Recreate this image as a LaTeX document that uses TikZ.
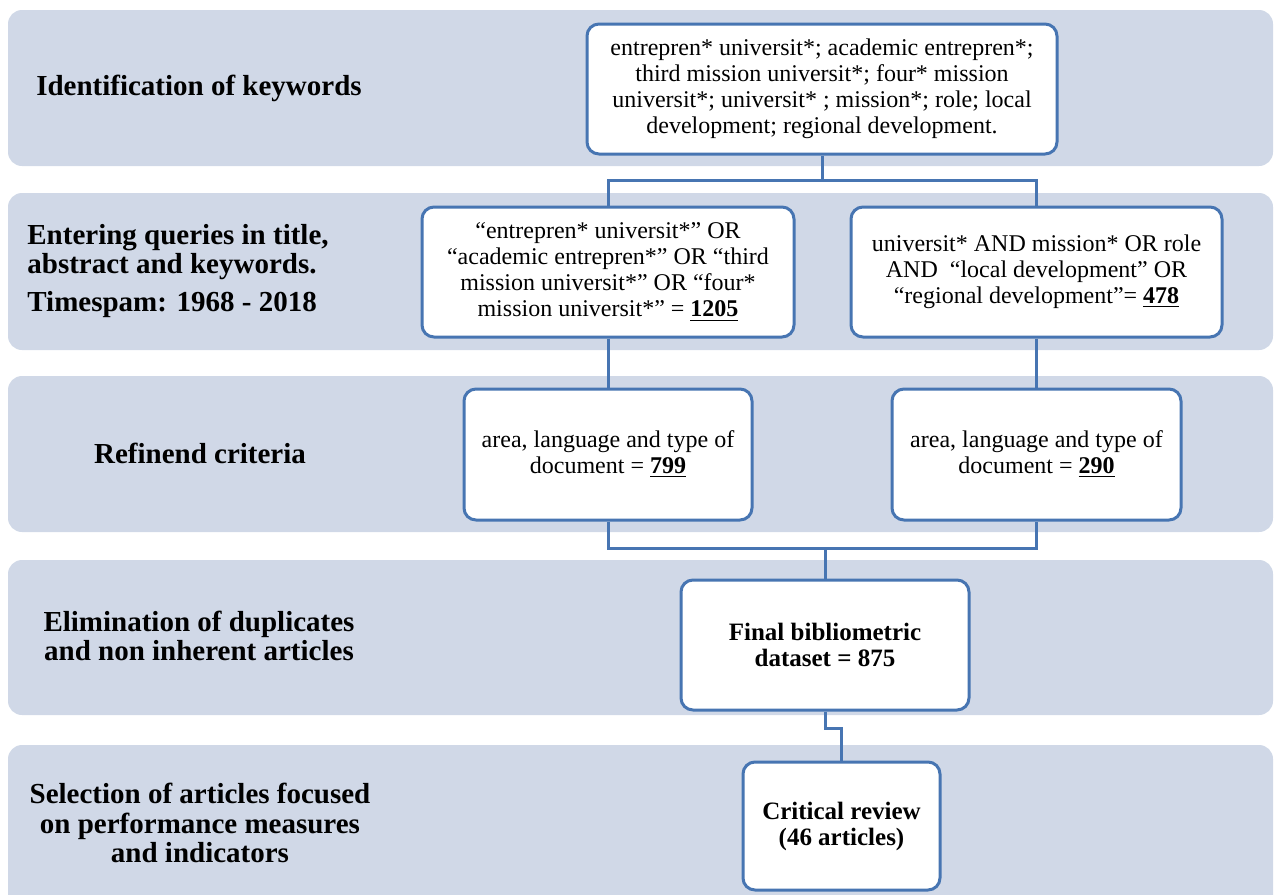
\documentclass[tikz,border=0pt]{standalone}
\usepackage{fontspec}
\setmainfont{Liberation Serif}
\usepackage{tikz}
\definecolor{bandgray}{RGB}{208,216,231}
\definecolor{boxblue}{RGB}{71,117,178}
\tikzstyle{band} = [fill=bandgray, rounded corners=7pt]
\tikzstyle{stepbox} = [draw=boxblue, line width=1.5pt, fill=white, rounded corners=6pt, align=center, inner sep=2pt, font=\rmfamily\fontsize{12}{13}\selectfont]
\tikzstyle{link} = [draw=boxblue, line width=1.5pt]
\tikzstyle{phase} = [font=\rmfamily\fontsize{14.5}{14.8}\selectfont\bfseries, inner sep=0pt]

\begin{document}
\begin{tikzpicture}[x=0.5pt, y=-0.5pt]
\clip (0,0) rectangle (1274,894);

% phase bands
\fill[band] (8,10) rectangle (1273,166);
\fill[band] (8,193) rectangle (1273,350);
\fill[band] (8,376) rectangle (1273,532);
\fill[band] (8,560) rectangle (1273,715);
\fill[band] (8,745) rectangle (1273,920);

% phase labels
\node[phase, align=center] (p1) at (199,88) {Identification of keywords};
\node[phase, align=left, anchor=west] (p2) at (27,271) {Entering queries in title,\\abstract and keywords.\\[4pt]Timespam: 1968 - 2018};
\node[phase, align=center] (p3) at (200,453) {Refinend criteria};
\node[phase, align=center] (p4) at (199,636) {Elimination of duplicates\\and non inherent articles};
\node[phase, align=center] (p5) at (200,823) {Selection of articles focused\\on performance measures\\and indicators};

% boxes
\node[stepbox, minimum width=235pt, minimum height=65pt] (kw) at (822,89) {entrepren* universit*; academic entrepren*;\\third mission universit*; four* mission\\universit*; universit* ; mission*; role; local\\development; regional development.};
\node[stepbox, minimum width=186pt, minimum height=65pt] (qa) at (608,272) {“entrepren* universit*” OR\\“academic entrepren*” OR “third\\mission universit*” OR “four*\\mission universit*” = \underline{\textbf{1205}}};
\node[stepbox, minimum width=185.5pt, minimum height=65pt] (qb) at (1036.5,272) {universit* AND mission* OR role\\AND~ “local development” OR\\“regional development”= \underline{\textbf{478}}};
\node[stepbox, minimum width=144pt, minimum height=65.5pt] (ra) at (608,454.5) {area, language and type of\\document = \underline{\textbf{799}}};
\node[stepbox, minimum width=144.5pt, minimum height=65.5pt] (rb) at (1036.5,454.5) {area, language and type of\\document = \underline{\textbf{290}}};
\node[stepbox, minimum width=144pt, minimum height=65pt, font=\rmfamily\fontsize{12.5}{13}\selectfont\bfseries] (fin) at (825,645) {Final bibliometric\\dataset = 875};
\node[stepbox, minimum width=98.5pt, minimum height=64pt, font=\rmfamily\fontsize{12.5}{13}\selectfont\bfseries] (cr) at (841.5,826) {Critical review\\(46 articles)};

% connectors
\coordinate (j1) at (822,180);
\coordinate (j2) at (825,548);
\coordinate (j3) at (841.5,728);
\draw[link] (kw.south) -- (j1);
\draw[link] (qa.north) |- (j1) -| (qb.north);
\draw[link] (qa.south) -- (ra.north);
\draw[link] (qb.south) -- (rb.north);
\draw[link] (ra.south) |- (j2) -| (rb.south);
\draw[link] (j2) -- (fin.north);
\draw[link] (fin.south) |- (j3) -- (cr.north);
\end{tikzpicture}
\end{document}
